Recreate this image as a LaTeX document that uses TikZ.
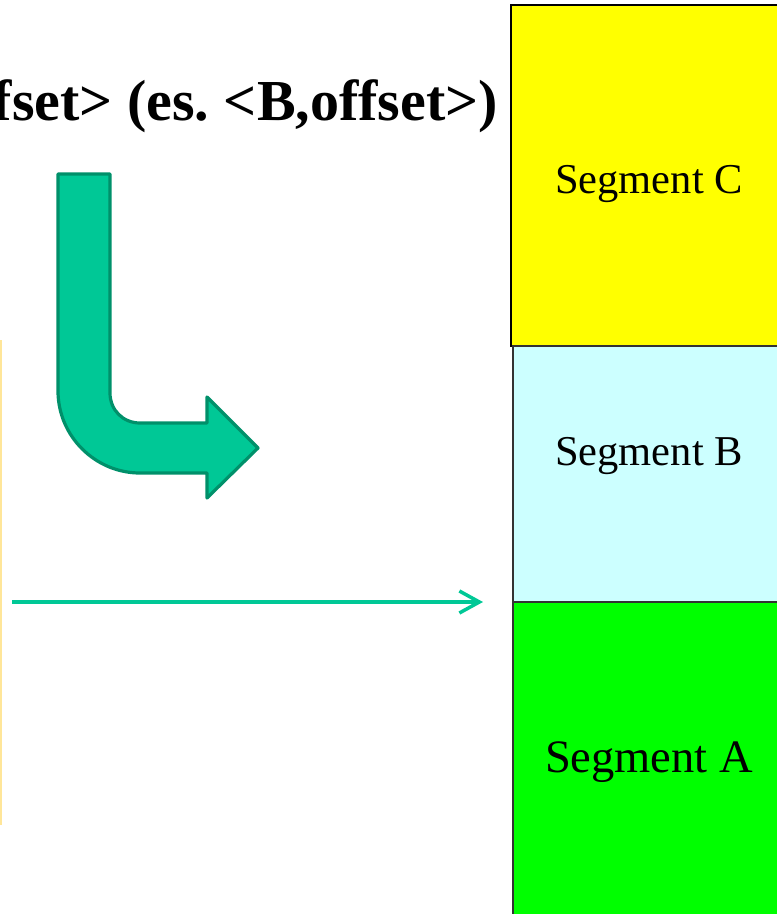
\documentclass[tikz,border=0pt]{standalone}
\usepackage{fontspec}
\setmainfont{Liberation Serif}
\usetikzlibrary{arrows.meta}
\definecolor{segyellow}{HTML}{FFFF00}
\definecolor{segcyan}{HTML}{CCFFFF}
\definecolor{seggreen}{HTML}{00FF00}
\definecolor{teal}{HTML}{00C896}
\definecolor{tealdark}{HTML}{00906A}
\definecolor{paleyellow}{HTML}{FFE699}
\frenchspacing
\begin{document}
\begin{tikzpicture}[x=1pt,y=-1pt,
    seg/.style={rectangle,draw=black!80,line width=2pt,inner sep=0pt},
    segtext/.style={font=\fontsize{42.5}{48}\selectfont},
    bentarrow/.style={fill=teal,draw=tealdark,line width=3.2pt,line join=round},
    ptr/.style={draw=teal,line width=3.5pt,-{Straight Barb[length=20pt,width=22pt,line width=3.5pt]}}] %
    \clip (0,0) rectangle (777,914);%
    % memory segments, right side cut off by the frame
    \node[seg,draw=black,line width=2.2pt,fill=segyellow,minimum width=280pt,minimum height=341pt]
      (segC) at (651,175.5) {};%
    \node[seg,fill=segcyan,minimum width=278pt,minimum height=256pt]
      (segB) at (652,474) {};%
    \node[seg,fill=seggreen,minimum width=278pt,minimum height=330pt]
      (segA) at (652,767) {};%
    \node[segtext] (labC) at ([xshift=-2pt,yshift=-9pt]segC.center) {Segment C};%
    \node[segtext] (labB) at ([xshift=-3pt,yshift=18pt]segB.center) {Segment B};%
    \node[segtext,font=\fontsize{46.5}{52}\selectfont] (labA) at ([xshift=-3pt,yshift=5pt]segA.center) {Segment A};%

    % address text, cut at the left edge
    \node[anchor=base east,inner sep=0pt,font=\bfseries\fontsize{58}{66}\selectfont]
      (addr) at (498,120) {fset> (es. <B,offset>)};%

    % bent arrow
    \draw[bentarrow] (58,174) -- (110,174) -- (110,393)
      .. controls (110,410) and (123,423) .. (140,423) -- (207,423) -- (207,397)
      -- (258,448) -- (207,498) -- (207,473) -- (140,473)
      .. controls (95,473) and (58,436) .. (58,391) -- cycle;%

    % edge of a box outside the frame
    \coordinate (edgetop) at (1.2,340);%
    \coordinate (edgebot) at (1.2,825);%
    \draw[paleyellow,line width=2.5pt] (edgetop) -- (edgebot);%

    \coordinate (src) at (12,602);%
    \coordinate (dst) at (483,602);%
    \draw[ptr] (src) -- (dst);%
\end{tikzpicture}
\end{document}
